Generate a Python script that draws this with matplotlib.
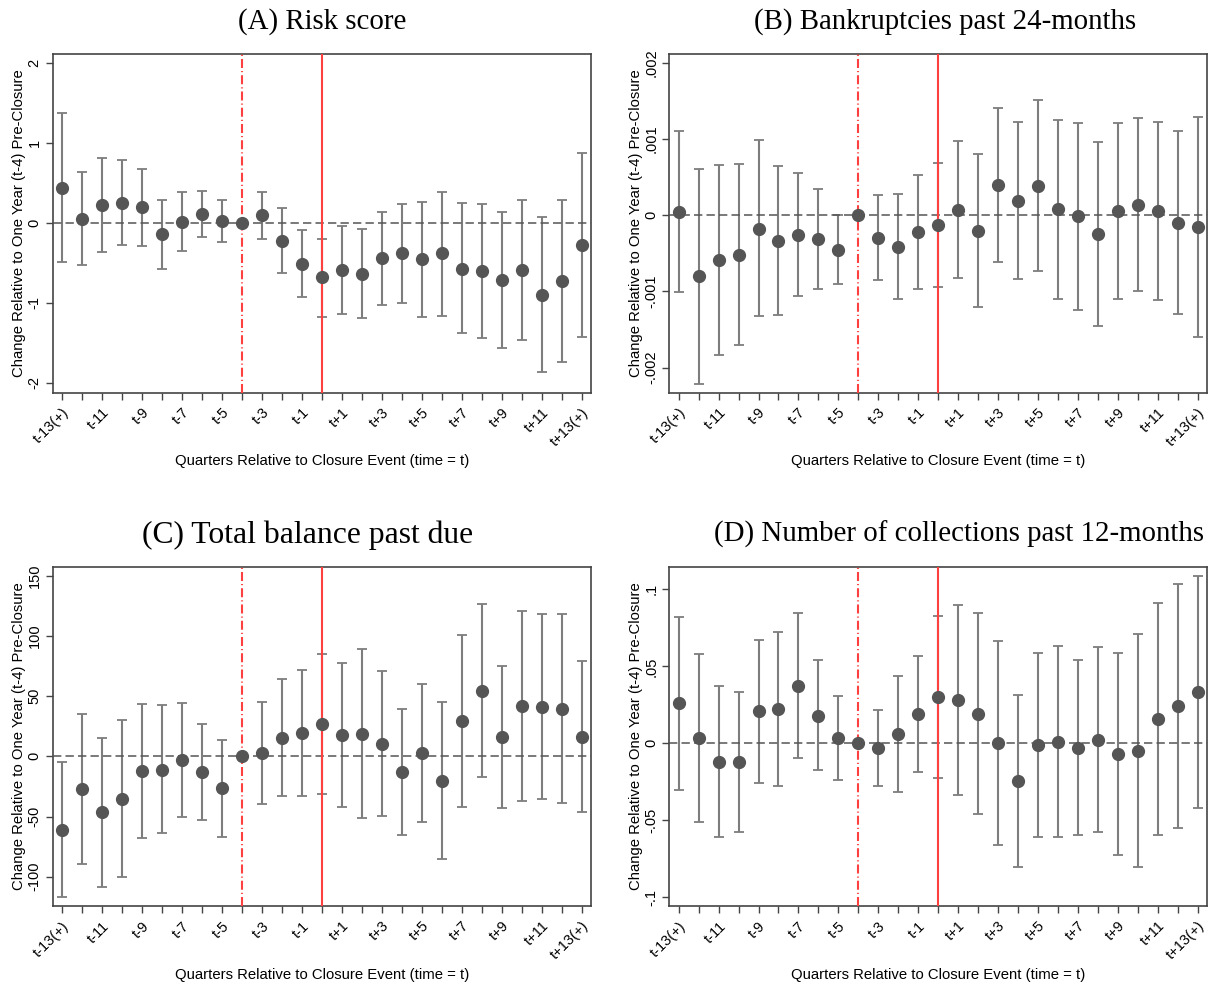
import numpy as np
import matplotlib
matplotlib.use("Agg")
from matplotlib import pyplot as plt

# quarters relative to closure, t-13 ... t+13
quarters = list(range(-13, 14))
tick_labels = []
for q in quarters:
    if q % 2 == 0:
        tick_labels.append("")
    elif q == -13:
        tick_labels.append("t-13(+)")
    elif q == 13:
        tick_labels.append("t+13(+)")
    elif q < 0:
        tick_labels.append(f"t{q}")
    else:
        tick_labels.append(f"t+{q}")

# (A) Risk score
risk_est = [0.44, 0.05, 0.22, 0.25, 0.20, -0.14, 0.01, 0.11, 0.02, 0.0, 0.10, -0.22, -0.51, -0.68,
            -0.59, -0.64, -0.44, -0.38, -0.45, -0.38, -0.57, -0.60, -0.71, -0.59, -0.90, -0.73, -0.28]
risk_hi = [1.37, 0.63, 0.81, 0.79, 0.67, 0.28, 0.39, 0.40, 0.29, None, 0.38, 0.18, -0.09, -0.20,
           -0.04, -0.075, 0.14, 0.23, 0.26, 0.39, 0.25, 0.24, 0.14, 0.29, 0.075, 0.28, 0.87]
risk_lo = [-0.49, -0.53, -0.36, -0.28, -0.29, -0.57, -0.35, -0.18, -0.24, None, -0.20, -0.62, -0.925, -1.17,
           -1.14, -1.19, -1.025, -1.0, -1.175, -1.16, -1.38, -1.44, -1.56, -1.46, -1.86, -1.74, -1.42]

# (B) Bankruptcies past 24-months (in units of 0.001)
bank_est = [0.04, -0.80, -0.585, -0.52, -0.18, -0.34, -0.26, -0.31, -0.45, 0.0, -0.30, -0.42, -0.22, -0.135,
            0.07, -0.205, 0.39, 0.18, 0.38, 0.08, -0.01, -0.25, 0.05, 0.14, 0.05, -0.105, -0.16]
bank_hi = [1.10, 0.61, 0.66, 0.67, 0.98, 0.64, 0.55, 0.35, 0.0, None, 0.27, 0.28, 0.53, 0.68,
           0.97, 0.80, 1.41, 1.22, 1.51, 1.25, 1.21, 0.96, 1.205, 1.28, 1.22, 1.10, 1.29]
bank_lo = [-1.01, -2.21, -1.83, -1.70, -1.32, -1.31, -1.065, -0.97, -0.90, None, -0.85, -1.10, -0.97, -0.94,
           -0.83, -1.21, -0.62, -0.84, -0.73, -1.10, -1.24, -1.45, -1.10, -0.99, -1.11, -1.30, -1.60]

# (C) Total balance past due
due_est = [-60.9, -26.9, -46.3, -35.2, -12.2, -11.4, -3.0, -12.7, -26.6, 0.0, 2.5, 15.5, 19.1, 26.9,
           17.7, 18.6, 10.5, -13.0, 2.5, -20.5, 29.1, 54.6, 16.1, 41.8, 41.3, 39.3, 16.1]
due_hi = [-4.7, 35.5, 15.5, 30.5, 43.8, 42.4, 44.6, 27.1, 13.6, None, 44.9, 64.0, 72.0, 85.0,
          77.3, 88.9, 70.6, 39.6, 60.1, 44.9, 100.6, 126.6, 75.3, 121.1, 118.6, 118.0, 78.9]
due_lo = [-117.2, -89.2, -108.3, -100.6, -67.6, -64.0, -50.1, -52.6, -66.8, None, -39.3, -32.7, -33.2, -31.3,
          -41.8, -51.2, -49.6, -65.7, -54.6, -85.3, -42.4, -17.2, -42.9, -37.1, -35.7, -39.1, -46.5]

# (D) Number of collections past 12-months
coll_est = [0.026, 0.0037, -0.0123, -0.0123, 0.021, 0.022, 0.037, 0.018, 0.0037, 0.0, -0.0032, 0.006, 0.019, 0.030,
            0.028, 0.019, 0.0002, -0.0245, -0.0013, 0.0009, -0.0028, 0.0024, -0.0071, -0.0048, 0.0156, 0.0242, 0.0333]
coll_hi = [0.082, 0.058, 0.037, 0.0335, 0.067, 0.0725, 0.0844, 0.054, 0.031, None, 0.0214, 0.044, 0.057, 0.083,
           0.090, 0.0846, 0.0667, 0.0316, 0.0587, 0.0632, 0.0543, 0.0626, 0.0584, 0.0708, 0.0911, 0.1032, 0.1089]
coll_lo = [-0.030, -0.051, -0.061, -0.0576, -0.0255, -0.028, -0.0097, -0.0173, -0.0236, None, -0.0277, -0.0314, -0.0186, -0.0225,
           -0.0333, -0.046, -0.066, -0.0805, -0.061, -0.061, -0.0597, -0.0576, -0.0727, -0.0805, -0.0595, -0.0548, -0.042]

plt.rcParams["lines.scale_dashes"] = False

SANS = "Liberation Sans"
SERIF = "Liberation Serif"
DOT = "#555555"
BAR = "#7d7d7d"
RED = "#ff4040"


def fmt_tick(v, decimals):
    s = f"{v:.{decimals}f}"
    if decimals > 0:
        s = s.rstrip("0").rstrip(".")
        s = s.replace("0.", ".")
    if s in ("-0", ".", "-.", ""):
        s = "0"
    return s


def draw_panel(fig, rect, title, est, lo, hi, yticks, ylim, decimals, scale=1.0,
               title_x=0.5, title_size=20.8, title_pad=18):
    ax = fig.add_axes(rect)
    x = np.array(quarters)
    e = np.array(est) * scale
    lo_arr = np.array([np.nan if v is None else v for v in lo]) * scale
    hi_arr = np.array([np.nan if v is None else v for v in hi]) * scale

    has_ci = ~np.isnan(lo_arr)
    ax.errorbar(x[has_ci], e[has_ci],
                yerr=[e[has_ci] - lo_arr[has_ci], hi_arr[has_ci] - e[has_ci]],
                fmt="none", ecolor=BAR, elinewidth=1.5, capsize=3.5, capthick=1.3, zorder=2)
    ax.axhline(0, color="#555555", lw=1.1, ls=(0, (6, 3)), zorder=3)
    ax.axvline(-4, color=RED, lw=1.5, ls=(0, (6.5, 2.2, 0.8, 2.2)), zorder=4)
    ax.axvline(0, color=RED, lw=1.5, zorder=4)
    ax.plot(x, e, "o", color=DOT, ms=8.5, mec=DOT, zorder=5)

    ax.set_xlim(-13.47, 13.47)
    ax.set_ylim(*ylim)
    ax.set_xticks(quarters)
    ax.set_xticklabels(tick_labels, rotation=45, ha="right", rotation_mode="anchor",
                       fontsize=10.5, fontfamily=SANS)
    ax.set_yticks(yticks)
    ax.set_yticklabels([fmt_tick(v, decimals) for v in yticks], rotation=90, va="center",
                       fontsize=10.5, fontfamily=SANS)
    ax.tick_params(axis="both", direction="out", length=5, width=1, color="#444444", labelcolor="black")
    ax.tick_params(axis="x", pad=4)
    ax.tick_params(axis="y", pad=3)
    for sp in ax.spines.values():
        sp.set_color("#444444")
        sp.set_linewidth(1.2)

    ax.set_xlabel("Quarters Relative to Closure Event (time = t)", fontsize=10.7, fontfamily=SANS, labelpad=4)
    ax.set_ylabel("Change Relative to One Year (t-4) Pre-Closure", fontsize=10.7, fontfamily=SANS, labelpad=1)
    ax.set_title(title, fontsize=title_size, fontfamily=SERIF, pad=title_pad, x=title_x)
    return ax


fig = plt.figure(figsize=(12.13, 9.84), dpi=100)
W, H = 1213.0, 984.0


def rect(l, r, t, b):
    return [l / W, 1 - b / H, (r - l) / W, (b - t) / H]


draw_panel(fig, rect(52.7, 591, 54, 393), "(A) Risk score", risk_est, risk_lo, risk_hi,
           [-2, -1, 0, 1, 2], (-2.125, 2.11), 0)
draw_panel(fig, rect(669.3, 1207, 54, 393), "(B) Bankruptcies past 24-months", bank_est, bank_lo, bank_hi,
           [-0.002, -0.001, 0, 0.001, 0.002], (-0.002332, 0.002114), 3, scale=0.001, title_x=0.512)
draw_panel(fig, rect(52.7, 591, 566.7, 906.3), "(C) Total balance past due", due_est, due_lo, due_hi,
           [-100, -50, 0, 50, 100, 150], (-124.6, 157.6), 0, title_x=0.474, title_size=22.8, title_pad=17)
draw_panel(fig, rect(669.3, 1207, 566.7, 906.3), "(D) Number of collections past 12-months", coll_est, coll_lo, coll_hi,
           [-0.1, -0.05, 0, 0.05, 0.1], (-0.1058, 0.1147), 2, title_x=0.539)

fig.savefig("out.png", dpi=100)
